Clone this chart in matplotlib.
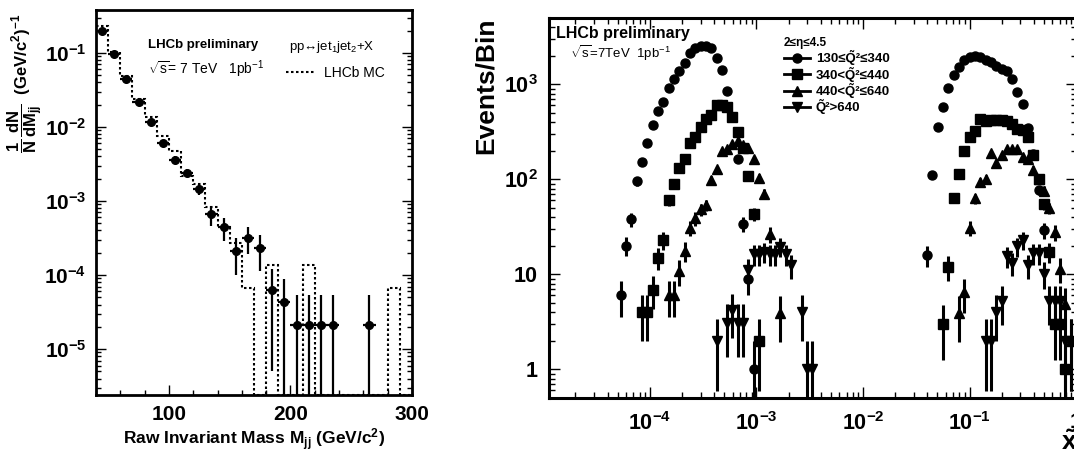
import numpy as np
import matplotlib
matplotlib.use('Agg')
import matplotlib.pyplot as plt
from matplotlib.lines import Line2D
from matplotlib.ticker import MultipleLocator, LogLocator, NullFormatter, FixedLocator, FixedFormatter

plt.rcParams['font.family'] = ['Liberation Sans', 'DejaVu Sans']
plt.rcParams['mathtext.fontset'] = 'custom'
plt.rcParams['mathtext.rm'] = 'Liberation Sans'
plt.rcParams['mathtext.bf'] = 'Liberation Sans:bold'
plt.rcParams['mathtext.it'] = 'Liberation Sans:italic'
plt.rcParams['mathtext.sf'] = 'Liberation Sans'
plt.rcParams['mathtext.default'] = 'bf'

# ---- left panel: dijet invariant mass ----
mjj = [45, 55, 65, 75, 85, 95, 105, 115, 125, 135, 145, 155, 165, 175,
       185, 195, 205, 215, 225, 235, 265]
dndm = [0.20, 0.096, 0.045, 0.022, 0.0115, 0.0060, 0.0036, 0.0024, 0.00146,
        6.6e-4, 4.4e-4, 2.1e-4, 3.2e-4, 2.3e-4, 6.3e-5, 4.3e-5,
        2.1e-5, 2.1e-5, 2.1e-5, 2.1e-5, 2.1e-5]
dndm_err = [0.006, 0.003, 0.002, 0.0012, 0.0008, 0.0005, 0.0004, 0.0003, 0.00025,
            2.0e-4, 1.5e-4, 1.1e-4, 1.3e-4, 1.15e-4, 5.8e-5, 4.6e-5,
            3.3e-5, 3.3e-5, 3.3e-5, 3.3e-5, 3.3e-5]
mc_edges = list(range(40, 301, 10))
mc_vals = [0.23, 0.104, 0.049, 0.024, 0.0135, 0.0075, 0.0047, 0.0022, 0.0017,
           8.2e-4, 4.4e-4, 2.7e-4, 6.6e-5, 0, 1.36e-4, 0, 0, 1.36e-4,
           0, 0, 0, 0, 0, 0, 6.6e-5, 0]

# ---- right panel: events per log-x bin, two groups of bins ----
low_bins = (-4.275, 0.05, 37)   # first log10 centre, step, count
high_bins = (-1.40, 0.05, 28)

low_q1 = [6, 20, 38, 96, 151, 244, 374, 527, 656, 907, 1130, 1390, 1660, 2120,
          2390, 2530, 2530, 2390, 1875, 1415, 850, 0, 164, 34, 9, 1,
          0, 0, 0, 0, 0, 0, 0, 0, 0, 0, 0]
low_q2 = [0, 0, 0, 0, 4, 4, 6.9, 15, 23, 60, 89, 132, 162, 239, 281, 358, 431,
          475, 605, 605, 572, 456, 312, 212, 109, 43, 2,
          0, 0, 0, 0, 0, 0, 0, 0, 0, 0]
low_q3 = [0, 0, 0, 0, 0, 0, 0, 0, 0, 6, 6, 10.8, 17.6, 31, 38.8, 48.6, 53.6,
          98, 128, 200, 207, 235, 255, 229, 212, 162, 103, 70, 26.5, 0, 3.9,
          0, 0, 0, 0, 0, 0]
low_q4 = [0, 0, 0, 0, 0, 0, 0, 0, 0, 0, 0, 0, 0, 0, 0, 0, 0, 0,
          2.0, 0, 3.1, 4.2, 3.1, 3.1, 11.1, 16.4, 16.4, 17.3, 16.4, 16.4, 19.5,
          16.4, 12.5, 0, 4.0, 1, 1]

high_q1 = [16, 111, 352, 582, 922, 1254, 1535, 1800, 1950, 2000, 1930, 1810,
           1700, 1560, 1437, 1390, 1137, 836, 621, 349, 185, 77, 29,
           0, 0, 0, 0, 0]
high_q2 = [0, 0, 0, 3, 12, 64, 113, 200, 279, 320, 430, 414, 421, 421, 421,
           411, 385, 340, 330, 281, 180, 102, 55, 17.3, 3, 3, 1, 0]
high_q3 = [0, 0, 0, 0, 0, 0, 3.9, 6.5, 31, 63, 94, 102, 188, 150, 180, 207,
           210, 210, 173, 163, 126, 100, 76, 50, 28, 11.5, 4.9, 2.0]
high_q4 = [0, 0, 0, 0, 0, 0, 0, 0, 0, 0, 0, 2, 2, 4, 5.2, 15.5, 13.3, 19.7,
           23, 12.5, 16.6, 16.6, 10.2, 5.2, 5.2, 5.2, 2, 2]

series_labels = ["130≤Q\u0303²≤340", "340<Q\u0303²≤440",
                 "440<Q\u0303²≤640", "Q\u0303²>640"]
series_markers = ['o', 's', '^', 'v']

fig = plt.figure(figsize=(10.74, 4.55), dpi=100)

# ================= left =================
ax = fig.add_axes([0.0894, 0.1319, 0.2942, 0.8462])
ymin_l, ymax_l = 2.4e-6, 0.38
ax.set_yscale('log')
ax.set_xlim(40, 300)
ax.set_ylim(ymin_l, ymax_l)

mc = np.array(mc_vals)
mc = np.where(mc > 0, mc, ymin_l)   # empty bins drawn on the frame floor
ax.stairs(mc, mc_edges, baseline=None, color='k', lw=1.5, ls=(0, (1.2, 1.2)))

y = np.array(dndm)
e = np.array(dndm_err)
lo = np.where(e >= y, y * 0.999, e)
ax.errorbar(mjj, y, yerr=[lo, e], xerr=5, fmt='o', color='k', ms=5.5,
            elinewidth=1.6, capsize=0)

ax.xaxis.set_major_locator(MultipleLocator(100))
ax.xaxis.set_minor_locator(MultipleLocator(20))
ax.yaxis.set_major_locator(FixedLocator([1e-5, 1e-4, 1e-3, 1e-2, 1e-1]))
ax.yaxis.set_major_formatter(FixedFormatter(['$10^{-5}$', '$10^{-4}$', '$10^{-3}$',
                                             '$10^{-2}$', '$10^{-1}$']))
ax.yaxis.set_minor_locator(LogLocator(subs=np.arange(2, 10)))
ax.yaxis.set_minor_formatter(NullFormatter())
ax.tick_params(which='both', direction='in', top=False, right=True, width=1)
ax.tick_params(which='major', length=7, labelsize=15, pad=7)
ax.tick_params(which='minor', length=3.5)
for t in ax.get_xticklabels():
    t.set_fontweight('bold')
for s in ax.spines.values():
    s.set_linewidth(2)

ax.set_xlabel("Raw Invariant Mass M$_{jj}$ (GeV/c$^{2}$)", fontsize=12.5,
              fontweight='bold')
ax.xaxis.set_label_coords(0.5, -0.115)
ax.xaxis.label.set_va('center')
ax.set_ylabel("$\\dfrac{1}{N}\\,\\dfrac{dN}{dM_{jj}}$  (GeV/c$^{2}$)$^{-1}$",
              fontsize=12, fontweight='bold', loc='top')
ax.yaxis.set_label_coords(-0.16, 0.99)

ax.text(0.339, 0.909, "LHCb preliminary", transform=ax.transAxes, ha='center',
        va='center', fontsize=9.5, fontweight='bold')
ax.text(0.35, 0.847, "$\\mathrm{\\sqrt{s}}$= 7 TeV   1pb$^{\\mathrm{-1}}$",
        transform=ax.transAxes, ha='center', va='center', fontsize=10)
ax.text(0.745, 0.904, "pp↔jet$_{\\mathrm{1}}$jet$_{\\mathrm{2}}$+X",
        transform=ax.transAxes, ha='center', va='center', fontsize=9.5)
ax.legend([Line2D([], [], color='k', lw=1.5, ls=(0, (1.2, 1.2)))], ["LHCb MC"],
          loc='center left', bbox_to_anchor=(0.6, 0.837), frameon=False,
          fontsize=10, handlelength=2.2, handletextpad=0.6, borderpad=0,
          borderaxespad=0)

# ================= right =================
ax2 = fig.add_axes([0.5112, 0.1253, 0.4916, 0.8352])
ax2.set_xscale('log')
ax2.set_yscale('log')
ax2.set_xlim(1.13e-5, 1.02)
ax2.set_ylim(0.5, 5000)


def centres(b):
    start, step, n = b
    return 10 ** (start + step * np.arange(n))


groups = [(centres(low_bins), [low_q1, low_q2, low_q3, low_q4]),
          (centres(high_bins), [high_q1, high_q2, high_q3, high_q4])]
for xc, sets in groups:
    for counts, mk in zip(sets, series_markers):
        c = np.array(counts, dtype=float)
        m = c > 0
        err = np.sqrt(c[m])      # Poisson error on the counts
        low = np.where(err >= c[m], c[m] * 0.999, err)
        ax2.errorbar(xc[m], c[m], yerr=[low, err], fmt=mk, color='k',
                     ms=6.5, elinewidth=2.2, capsize=0)

ax2.xaxis.set_major_locator(FixedLocator([1e-4, 1e-3, 1e-2, 1e-1, 1]))
ax2.xaxis.set_major_formatter(FixedFormatter(['$10^{-4}$', '$10^{-3}$',
                                              '$10^{-2}$', '$10^{-1}$', '1']))
ax2.xaxis.set_minor_locator(LogLocator(subs=np.arange(2, 10), numticks=20))
ax2.xaxis.set_minor_formatter(NullFormatter())
ax2.yaxis.set_major_locator(FixedLocator([1, 10, 100, 1000]))
ax2.yaxis.set_major_formatter(FixedFormatter(['1', '10', '$10^{2}$', '$10^{3}$']))
ax2.yaxis.set_minor_locator(LogLocator(subs=np.arange(2, 10)))
ax2.yaxis.set_minor_formatter(NullFormatter())
ax2.tick_params(which='both', direction='in', top=True, right=True, width=1)
ax2.tick_params(which='major', length=8, labelsize=15.5)
ax2.tick_params(axis='x', which='major', pad=10)
ax2.tick_params(axis='y', which='major', pad=8)
ax2.tick_params(which='minor', length=4)
for t in ax2.get_xticklabels() + ax2.get_yticklabels():
    t.set_fontweight('bold')
for s in ax2.spines.values():
    s.set_linewidth(2.2)

ax2.set_ylabel("Events/Bin", fontsize=19, fontweight='bold', loc='top')
ax2.yaxis.set_label_coords(-0.097, 1.0)
ax2.set_xlabel("$\\tilde{x}$", fontsize=19, fontweight='bold')
ax2.xaxis.set_label_coords(0.985, -0.085)
ax2.xaxis.label.set_va('top')

ax2.text(0.013, 0.96, "LHCb preliminary", transform=ax2.transAxes, ha='left',
         va='center', fontsize=11.5, fontweight='bold')
ax2.text(0.04, 0.907, "$\\mathrm{\\sqrt{s}}$=7TeV  1pb$^{\\mathrm{-1}}$",
         transform=ax2.transAxes, ha='left', va='center', fontsize=9.5)

handles = [Line2D([], [], color='k', lw=2, marker=mk, ms=6.5) for mk in series_markers]
leg = ax2.legend(handles, series_labels, title="2≤η≤4.5", loc='upper left',
                 bbox_to_anchor=(0.445, 0.95), frameon=False, fontsize=9.5,
                 title_fontproperties={'size': 8.5, 'weight': 'bold'},
                 handlelength=2.0, handletextpad=0.4, labelspacing=0.1,
                 handleheight=0.5, borderpad=0, borderaxespad=0,
                 alignment='left')
for t in leg.get_texts():
    t.set_fontweight('bold')

fig.savefig('out.png', dpi=100)
